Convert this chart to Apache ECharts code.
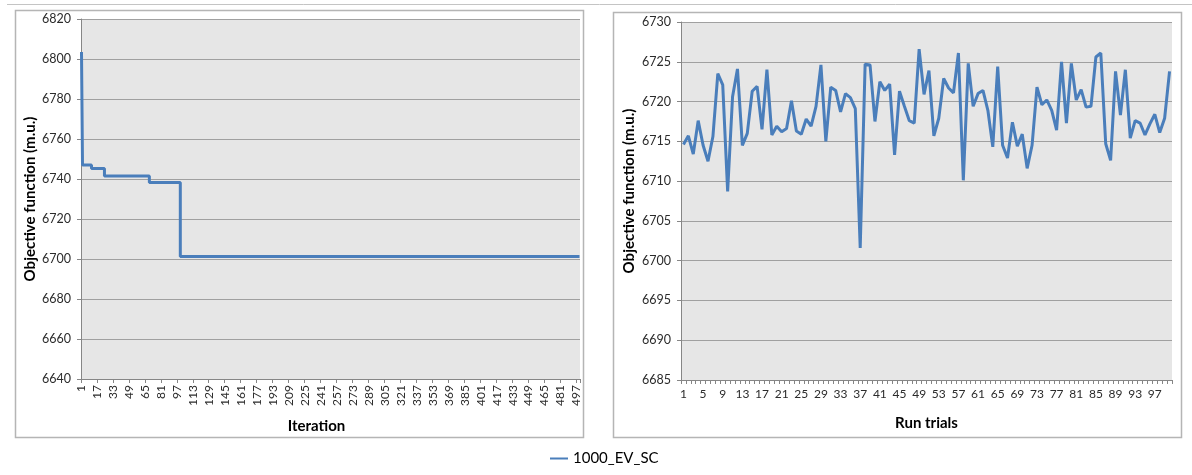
<!DOCTYPE html>
<html>
<head>
<meta charset="utf-8">
<script src="https://cdn.jsdelivr.net/npm/echarts@6/dist/echarts.min.js"></script>
<style>
  html, body { margin: 0; padding: 0; background: #ffffff; }
  #chart { width: 1192px; height: 475px; }
</style>
</head>
<body>
<div id="chart"></div>
<script>
// Series name shared by both panels
const seriesName = '1000_EV_SC';

// Left panel: best objective value per iteration, stored at the iterations where it changes
const iterationCount = 500;
const iterChangeAt = ['1', '2', '11', '24', '69', '100', '500'];
const iterValues = [6803.5, 6747.0, 6745.2, 6741.5, 6738.3, 6701.2, 6701.2];

// Right panel: final objective value of each of the 100 run trials
const trialValues = [
  6714.6, 6715.7, 6713.4, 6717.6, 6714.5, 6712.5, 6715.6, 6723.5, 6722.1, 6708.7,
  6720.6, 6724.1, 6714.5, 6716.0, 6721.3, 6721.9, 6716.5, 6724.0, 6715.8, 6716.9,
  6716.2, 6716.6, 6720.1, 6716.3, 6715.9, 6717.8, 6716.9, 6719.4, 6724.6, 6715.0,
  6721.8, 6721.4, 6718.7, 6721.0, 6720.5, 6719.1, 6701.6, 6724.7, 6724.6, 6717.5,
  6722.5, 6721.4, 6722.2, 6713.3, 6721.3, 6719.4, 6717.6, 6717.3, 6726.6, 6720.9,
  6723.9, 6715.7, 6717.9, 6722.9, 6721.7, 6721.1, 6726.1, 6710.1, 6724.8, 6719.4,
  6721.0, 6721.4, 6718.9, 6714.3, 6724.4, 6714.5, 6712.9, 6717.4, 6714.4, 6715.9,
  6711.6, 6714.5, 6721.8, 6719.6, 6720.2, 6718.9, 6716.4, 6725.0, 6717.3, 6724.8,
  6720.2, 6721.5, 6719.3, 6719.4, 6725.6, 6726.1, 6714.7, 6712.6, 6723.8, 6718.3,
  6724.0, 6715.4, 6717.6, 6717.3, 6715.8, 6717.2, 6718.4, 6716.1, 6717.9, 6723.8
];

// Axis ranges
const iterAxis = { min: 6640, max: 6820, interval: 20 };
const trialAxis = { min: 6685, max: 6730, interval: 5 };

// Category labels
const iterationLabels = Array.from({ length: iterationCount }, (_, i) => String(i + 1));
const trialLabels = trialValues.map((_, i) => String(i + 1));

const FONT = 'Lato, "Open Sans", "Liberation Sans", sans-serif';
const LINE_COLOR = '#4A7EBB';
const AXIS_COLOR = '#868686';
const GRID_COLOR = '#A0A0A0';
const PLOT_BG = '#E6E6E6';
const BOX_COLOR = '#B5B5B5';

const titleStyle = { fontFamily: FONT, fontWeight: 'bold', fontSize: 15, color: '#000' };

const chart = echarts.init(document.getElementById('chart'), null, { renderer: 'canvas' });

const commonY = {
  type: 'value',
  nameLocation: 'middle',
  axisLine: { show: true, lineStyle: { color: AXIS_COLOR, width: 1 } },
  axisTick: { show: true, length: 4, lineStyle: { color: AXIS_COLOR } },
  axisLabel: { fontFamily: FONT, fontSize: 12.5, color: '#2b2b2b', margin: 10, formatter: v => String(v) },
  splitLine: { show: true, lineStyle: { color: GRID_COLOR, width: 1 } }
};

const option = {
  animation: false,
  backgroundColor: '#ffffff',
  textStyle: { fontFamily: FONT },
  graphic: [
    { type: 'line', shape: { x1: 7, y1: 4.5, x2: 1192, y2: 4.5 }, style: { stroke: '#C4C4C4', lineWidth: 1 }, silent: true },
    { type: 'rect', shape: { x: 15.5, y: 10.5, width: 568, height: 427 }, style: { fill: null, stroke: BOX_COLOR, lineWidth: 1.5 }, silent: true },
    { type: 'rect', shape: { x: 613.5, y: 12.5, width: 568, height: 425 }, style: { fill: null, stroke: BOX_COLOR, lineWidth: 1.5 }, silent: true }
  ],
  legend: {
    data: [seriesName],
    left: 545,
    top: 446,
    icon: 'rect',
    itemWidth: 18,
    itemHeight: 2,
    itemGap: 4,
    textStyle: { fontFamily: FONT, fontSize: 15, color: '#000' }
  },
  grid: [
    { left: 81, top: 19, width: 499, height: 360, show: true, backgroundColor: PLOT_BG, borderWidth: 0 },
    { left: 681, top: 22, width: 491, height: 358, show: true, backgroundColor: PLOT_BG, borderWidth: 0 }
  ],
  xAxis: [
    {
      type: 'category',
      gridIndex: 0,
      data: iterationLabels,
      boundaryGap: true,
      name: 'Iteration',
      nameLocation: 'middle',
      nameGap: 40,
      nameTextStyle: Object.assign({}, titleStyle, { padding: [0, 28, 0, 0] }),
      axisLine: { show: true, lineStyle: { color: AXIS_COLOR } },
      axisTick: { show: true, interval: 15, length: 4, lineStyle: { color: AXIS_COLOR } },
      axisLabel: { interval: 15, rotate: 90, fontFamily: FONT, fontSize: 12, color: '#2b2b2b', margin: 6 },
      splitLine: { show: false }
    },
    {
      type: 'category',
      gridIndex: 1,
      data: trialLabels,
      boundaryGap: true,
      name: 'Run trials',
      nameLocation: 'middle',
      nameGap: 36,
      nameTextStyle: titleStyle,
      axisLine: { show: true, lineStyle: { color: AXIS_COLOR } },
      axisTick: { show: true, interval: 0, length: 4, lineStyle: { color: AXIS_COLOR } },
      axisLabel: { interval: 3, fontFamily: FONT, fontSize: 12, color: '#2b2b2b', margin: 8 },
      splitLine: { show: false }
    }
  ],
  yAxis: [
    Object.assign({}, commonY, {
      gridIndex: 0,
      min: iterAxis.min, max: iterAxis.max, interval: iterAxis.interval,
      name: 'Objective function (m.u.)',
      nameGap: 42,
      nameTextStyle: titleStyle
    }),
    Object.assign({}, commonY, {
      gridIndex: 1,
      min: trialAxis.min, max: trialAxis.max, interval: trialAxis.interval,
      name: 'Objective function (m.u.)',
      nameGap: 44,
      nameTextStyle: Object.assign({}, titleStyle, { padding: [0, 0, 0, 20] })
    })
  ],
  series: [
    {
      name: seriesName,
      type: 'line',
      xAxisIndex: 0,
      yAxisIndex: 0,
      step: 'end',
      showSymbol: false,
      symbol: 'none',
      data: iterChangeAt.map((c, i) => [c, iterValues[i]]),
      lineStyle: { color: LINE_COLOR, width: 3 },
      itemStyle: { color: LINE_COLOR }
    },
    {
      name: seriesName,
      type: 'line',
      xAxisIndex: 1,
      yAxisIndex: 1,
      showSymbol: false,
      symbol: 'none',
      data: trialValues,
      lineStyle: { color: LINE_COLOR, width: 3 },
      itemStyle: { color: LINE_COLOR }
    }
  ]
};

chart.setOption(option);
</script>
</body>
</html>
